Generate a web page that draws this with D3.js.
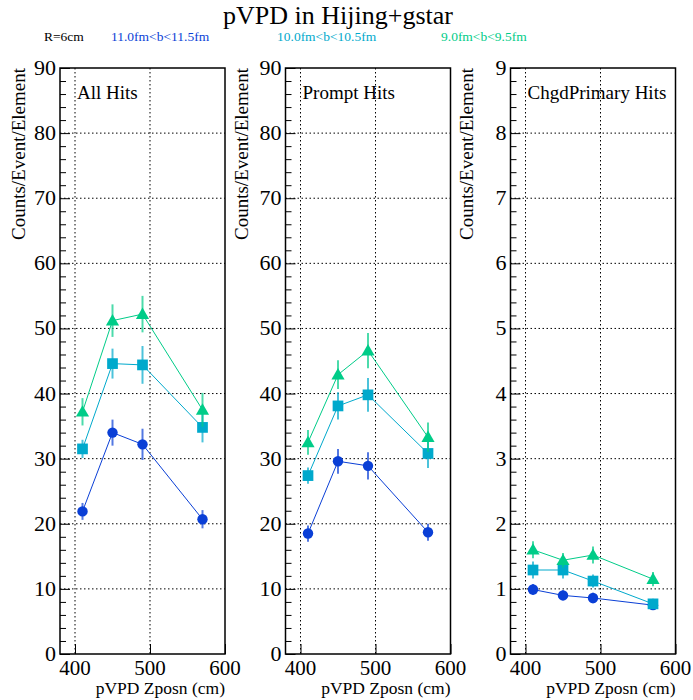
<!DOCTYPE html>
<html><head><meta charset="utf-8">
<script src="https://cdn.jsdelivr.net/npm/d3@7"></script>
<style>body{margin:0;background:#fff}svg{display:block}</style>
</head><body>
<script>
const zpos = [410, 450, 490, 570];
const seriesNames = ["11.0fm<b<11.5fm", "10.0fm<b<10.5fm", "9.0fm<b<9.5fm"];
const seriesColors = ["#0a3fd6", "#00a9cc", "#00cc88"];
const seriesShapes = ["circle", "square", "triangle"];
const panelTitles = ["All Hits", "Prompt Hits", "ChgdPrimary Hits"];
const panelYMax = [90, 90, 9];
const xTicks = [400, 500, 600];

// All Hits
const allHitsB11 = [21.9, 34.0, 32.2, 20.7];
const allHitsB11Err = [1.3, 2.0, 2.4, 1.4];
const allHitsB10 = [31.5, 44.6, 44.4, 34.8];
const allHitsB10Err = [1.4, 2.3, 2.9, 2.3];
const allHitsB9 = [37.2, 51.2, 52.2, 37.5];
const allHitsB9Err = [2.1, 2.5, 2.8, 2.6];
// Prompt Hits
const promptB11 = [18.5, 29.6, 28.9, 18.7];
const promptB11Err = [1.25, 1.9, 2.1, 1.3];
const promptB10 = [27.4, 38.1, 39.8, 30.8];
const promptB10Err = [1.25, 2.1, 2.6, 2.25];
const promptB9 = [32.5, 42.9, 46.6, 33.3];
const promptB9Err = [1.9, 2.2, 2.7, 2.25];
// ChgdPrimary Hits
const primB11 = [0.99, 0.90, 0.86, 0.75];
const primB11Err = [0.085, 0.08, 0.08, 0.07];
const primB10 = [1.29, 1.29, 1.12, 0.77];
const primB10Err = [0.13, 0.13, 0.1, 0.08];
const primB9 = [1.60, 1.44, 1.52, 1.15];
const primB9Err = [0.13, 0.11, 0.13, 0.11];

const panelData = [
  [[allHitsB11, allHitsB11Err], [allHitsB10, allHitsB10Err], [allHitsB9, allHitsB9Err]],
  [[promptB11, promptB11Err], [promptB10, promptB10Err], [promptB9, promptB9Err]],
  [[primB11, primB11Err], [primB10, primB10Err], [primB9, primB9Err]]
];

const FONT = "'Liberation Serif', 'DejaVu Serif', serif";
const W = 693, H = 700;
const svg = d3.select("body").append("svg").attr("width", W).attr("height", H)
  .attr("font-family", FONT);

// title
svg.append("text").attr("x", 338).attr("y", 24).attr("text-anchor", "middle")
  .attr("font-family", FONT).attr("font-size", 26).attr("fill", "#000").text("pVPD in Hijing+gstar");
// legend
const legX = [44, 111, 277, 441];
svg.append("text").attr("x", legX[0]).attr("y", 40.5).attr("font-family", FONT).attr("font-size", 13.5).attr("fill", "#000").text("R=6cm");
seriesNames.forEach((n, i) => {
  svg.append("text").attr("x", legX[i + 1]).attr("y", 40.5).attr("font-family", FONT).attr("font-size", 13.5)
    .attr("fill", seriesColors[i]).text(n);
});

const panelLeft = [60, 285.5, 510.5];
const yTitleX = [18.5, 241, 466];
const pw = 165, plotTop = 68, plotBottom = 654;

panelTitles.forEach((title, p) => {
  const L = panelLeft[p];
  const x = d3.scaleLinear().domain([380, 600]).range([L, L + pw]);
  const ymax = panelYMax[p];
  const y = d3.scaleLinear().domain([0, ymax]).range([plotBottom, plotTop]);
  const g = svg.append("g");
  const majorStep = ymax / 9;
  const majors = d3.range(0, ymax + majorStep / 2, majorStep);
  const minors = d3.range(0, ymax + 1e-9, majorStep / 5);

  // grid
  majors.filter(v => v > 0 && v < ymax).forEach(v => {
    g.append("line").attr("x1", L).attr("x2", L + pw).attr("y1", y(v)).attr("y2", y(v))
      .attr("stroke", "#000").attr("stroke-width", 1).attr("stroke-dasharray", "1.5,2.5");
  });
  xTicks.filter(v => v < 600).forEach(v => {
    g.append("line").attr("x1", x(v)).attr("x2", x(v)).attr("y1", plotTop).attr("y2", plotBottom)
      .attr("stroke", "#000").attr("stroke-width", 1).attr("stroke-dasharray", "1.5,2.5");
  });

  // y axis ticks (inward)
  const yAxis = d3.axisRight(y).tickValues(majors).tickSize(10).tickFormat("");
  g.append("g").attr("transform", `translate(${L},0)`).call(yAxis)
    .call(s => s.select(".domain").remove()).selectAll("line").attr("stroke", "#000");
  const yMinor = d3.axisRight(y).tickValues(minors.filter(v => !majors.some(m => Math.abs(m - v) < 1e-6))).tickSize(6).tickFormat("");
  g.append("g").attr("transform", `translate(${L},0)`).call(yMinor)
    .call(s => s.select(".domain").remove()).selectAll("line").attr("stroke", "#000");
  // y labels
  majors.forEach(v => {
    g.append("text").attr("x", L - 4).attr("y", y(v) + 7).attr("text-anchor", "end")
      .attr("font-family", FONT).attr("font-size", 22).attr("fill", "#000").text(d3.format("d")(v));
  });
  // x ticks
  const xAxis = d3.axisTop(x).tickValues(xTicks).tickSize(10).tickFormat("");
  g.append("g").attr("transform", `translate(0,${plotBottom})`).call(xAxis)
    .call(s => s.select(".domain").remove()).selectAll("line").attr("stroke", "#000");
  xTicks.forEach(v => {
    g.append("text").attr("x", x(v)).attr("y", 675).attr("text-anchor", "middle")
      .attr("font-family", FONT).attr("font-size", 21).attr("fill", "#000").text(v);
  });
  // frame
  g.append("rect").attr("x", L).attr("y", plotTop).attr("width", pw).attr("height", plotBottom - plotTop)
    .attr("fill", "none").attr("stroke", "#000").attr("stroke-width", 1.5);

  // titles
  g.append("text").attr("x", L + pw).attr("y", 694).attr("text-anchor", "end")
    .attr("font-family", FONT).attr("font-size", 17.5).attr("fill", "#000").text("pVPD Zposn (cm)");
  g.append("text").attr("transform", `translate(${yTitleX[p]},${plotTop}) rotate(-90)`)
    .attr("text-anchor", "end").attr("dy", "0.35em").attr("font-family", FONT).attr("font-size", 19).attr("fill", "#000")
    .text("Counts/Event/Element");
  g.append("text").attr("x", L + 17).attr("y", 98.5).attr("font-family", FONT).attr("font-size", 19).attr("fill", "#000").text(title);

  // series
  panelData[p].forEach(([vals, errs], s) => {
    const col = seriesColors[s];
    const pts = zpos.map((z, i) => ({ z, v: vals[i], e: errs[i] }));
    g.append("path").datum(pts)
      .attr("d", d3.line().x(d => x(d.z)).y(d => y(d.v)))
      .attr("fill", "none").attr("stroke", col).attr("stroke-width", 1);
    g.selectAll(null).data(pts).enter().append("line")
      .attr("x1", d => x(d.z)).attr("x2", d => x(d.z))
      .attr("y1", d => y(d.v - d.e)).attr("y2", d => y(d.v + d.e))
      .attr("stroke", col).attr("stroke-width", 2).attr("stroke-opacity", 0.7);
    const shape = seriesShapes[s];
    const sym = shape === "circle" ? d3.symbolCircle : shape === "square" ? d3.symbolSquare : d3.symbolTriangle;
    const size = shape === "circle" ? 85 : shape === "square" ? 115 : 75;
    g.selectAll(null).data(pts).enter().append("path")
      .attr("transform", d => `translate(${x(d.z)},${y(d.v) + (shape === "triangle" ? 1 : 0)})`)
      .attr("d", d3.symbol().type(sym).size(size)).attr("fill", col);
  });
});
</script>
</body></html>
